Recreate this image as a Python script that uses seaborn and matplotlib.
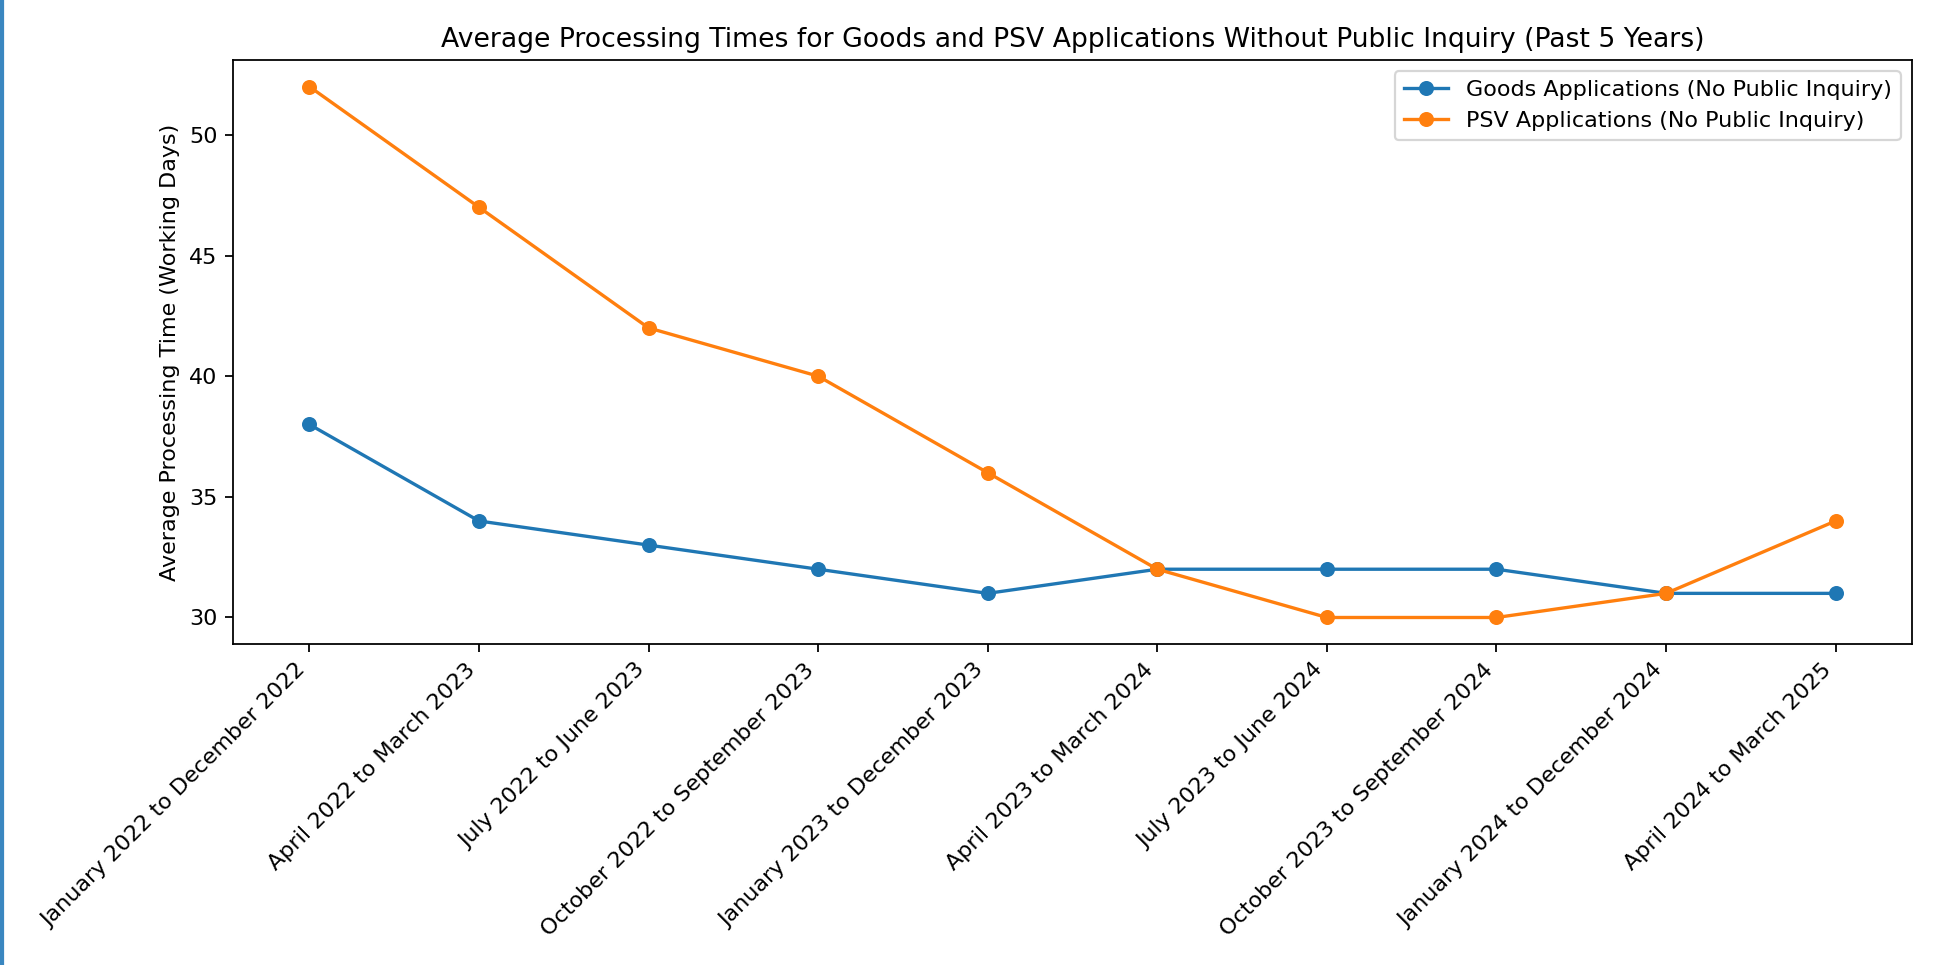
import numpy as np
import pandas as pd
import matplotlib
matplotlib.use("Agg")
import matplotlib.pyplot as plt
from matplotlib.patches import Rectangle
import seaborn as sns

periods = [
    "January 2022 to December 2022",
    "April 2022 to March 2023",
    "July 2022 to June 2023",
    "October 2022 to September 2023",
    "January 2023 to December 2023",
    "April 2023 to March 2024",
    "July 2023 to June 2024",
    "October 2023 to September 2024",
    "January 2024 to December 2024",
    "April 2024 to March 2025",
]
goods = [38, 34, 33, 32, 31, 32, 32, 32, 31, 31]
psv = [52, 47, 42, 40, 36, 32, 30, 30, 31, 34]

df = pd.DataFrame({"Period": periods, "Goods": goods, "PSV": psv})

fig, ax = plt.subplots(figsize=(1934 / 160, 965 / 160), dpi=160)
fig.subplots_adjust(left=0.1205, right=0.9886, top=0.9378, bottom=0.3326)

# einzelne linien, damit marker ohne weissen rand bleiben
sns.lineplot(data=df, x="Period", y="Goods", sort=False, marker="o", color="#1f77b4",
             markeredgecolor="#1f77b4", markersize=6, linewidth=1.5,
             label="Goods Applications (No Public Inquiry)", ax=ax)
sns.lineplot(data=df, x="Period", y="PSV", sort=False, marker="o", color="#ff7f0e",
             markeredgecolor="#ff7f0e", markersize=6, linewidth=1.5,
             label="PSV Applications (No Public Inquiry)", ax=ax)

ax.set_title("Average Processing Times for Goods and PSV Applications Without Public Inquiry (Past 5 Years)")
ax.set_xlabel("")
ax.set_ylabel("Average Processing Time (Working Days)")
plt.setp(ax.get_xticklabels(), rotation=45, ha="right")
ax.legend(loc="upper right")

# blauer rand links wie im screenshot
fig.add_artist(Rectangle((0, 0), 3 / 1934, 1, transform=fig.transFigure,
                         color="#3a87c0", zorder=10))

fig.savefig("out.png", dpi=160)
